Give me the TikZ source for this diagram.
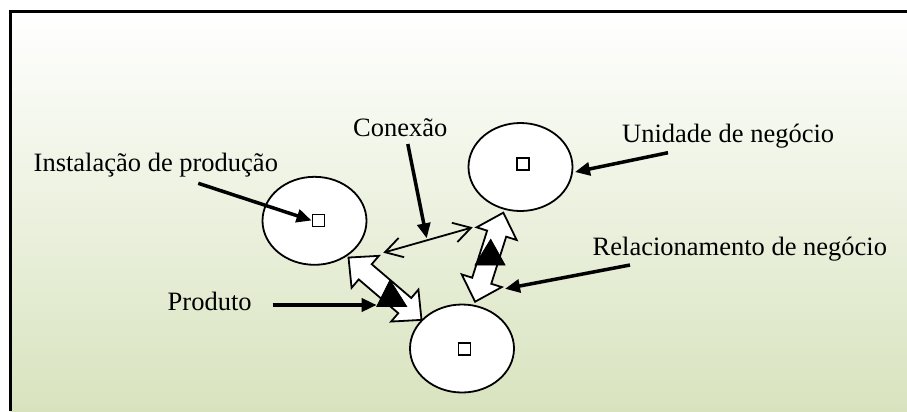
\documentclass[tikz,border=0pt]{standalone}
\usepackage{fontspec}
\setmainfont{Liberation Serif}
\usetikzlibrary{arrows.meta,shapes.geometric}
\definecolor{bgbot}{RGB}{216,227,190}
\begin{document}
\begin{tikzpicture}[x=1bp,y=-1bp,
  ell/.style={ellipse, draw, line width=1.8bp, fill=white, minimum width=104bp, minimum height=88bp, inner sep=0pt},
  sq/.style={draw, line width=1.8bp, fill=white, minimum size=12bp, inner sep=0pt},
  lbl/.style={font=\fontsize{26.6}{30}\selectfont, anchor=base west, inner sep=0pt},
  ptr/.style={line width=3.5bp, -{Triangle[length=15bp,width=13bp]}},
  conn/.style={line width=1.8bp, {Straight Barb[length=17bp,width=20bp]}-{Straight Barb[length=17bp,width=20bp]}},
  blk/.style={draw, line width=1.8bp, fill=white, line join=miter},
  tri/.style={fill=black, draw=black, line width=0.8bp, line join=miter}]
\useasboundingbox (0,0) rectangle (907,411);
\fill[white] (0,0) rectangle (907,411);
\foreach \i in {0,...,99} {
  \pgfmathtruncatemacro\p{\i*100/99}
  \fill[bgbot!\p!white] (10,{11+4*\i}) rectangle (907,{15.6+4*\i});
}
\draw[line width=3bp] (10,411) -- (10,11) -- (907,11);

% ellipses
\node[ell] (ip) at (314.5,220.8) {};
\node[ell] (un) at (520.5,167) {};
\node[ell] (bt) at (462,348.5) {};
\node[sq] (sqip) at (318.5,220.5) {};
\node[sq] (squn) at (523,164) {};
\node[sq] (sqbt) at (464.5,349) {};

% block double arrows
\begin{scope}[shift={(385,288.7)}, rotate=-40.5]
  \draw[blk] (-48,0) -- (-26,21) -- (-26,10) -- (26,10) -- (26,21) -- (48,0)
     -- (26,-21) -- (26,-10) -- (-26,-10) -- (-26,-21) -- cycle;
\end{scope}
\begin{scope}[shift={(489.2,257.2)}, rotate=72.4]
  \draw[blk] (-46.7,0) -- (-24.7,21) -- (-24.7,10) -- (24.7,10) -- (24.7,21) -- (46.7,0)
     -- (24.7,-21) -- (24.7,-10) -- (-24.7,-10) -- (-24.7,-21) -- cycle;
\end{scope}
\draw[tri] (390,280) -- (376.7,306.5) -- (406.7,306.5) -- cycle;
\draw[tri] (490.7,239.3) -- (475,265) -- (505,265) -- cycle;

% labels
\node[lbl] (tip) at (33.5,171) {Instalação de produção};
\node[lbl] (tun) at (622,142.5) {Unidade de negócio};
\node[lbl] (tcon) at (353,136) {Conexão};
\node[lbl] (trel) at (592.5,255) {Relacionamento de negócio};
\node[lbl] (tpro) at (167.5,310) {Produto};

% connection line
\coordinate (cL) at (383.3,252.7);
\coordinate (cR) at (472.7,227.3);
\draw[conn] (cL) -- (cR);

% pointers
\coordinate (pIs) at (198.3,183.3);
\coordinate (pCs) at (407.8,144);
\coordinate (pCe) at (426.7,238.3);
\coordinate (pUs) at (668,152.7);
\coordinate (pUe) at (575,172);
\coordinate (pRs) at (630,265);
\coordinate (pRe) at (505,288.8);
\coordinate (pPs) at (272.7,305);
\coordinate (pPe) at (376.7,305);
\draw[ptr] (pIs) -- (sqip.west);
\draw[ptr] (pCs) -- (pCe);
\draw[ptr] (pUs) -- (pUe);
\draw[ptr] (pRs) -- (pRe);
\draw[ptr] (pPs) -- (pPe);
\end{tikzpicture}
\end{document}
